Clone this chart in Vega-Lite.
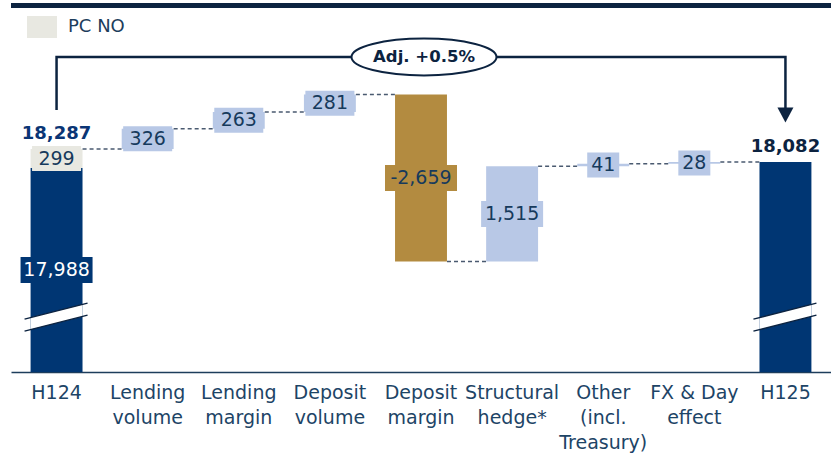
{
  "$schema": "https://vega.github.io/schema/vega-lite/v6.json",
  "width": 820,
  "height": 372,
  "autosize": {"type": "none"},
  "padding": {"left": 11, "top": 0, "right": 0, "bottom": 85},
  "background": "white",
  "config": {"view": {"stroke": null}, "font": "DejaVu Sans"},
  "datasets": {
    "steps": [
      {"cat": "H124", "kind": "Total", "start": 0, "end": 17988, "label": "17,988"},
      {"cat": "H124", "kind": "PC NO", "start": 17988, "end": 18287, "label": "299", "next": "Lending volume"},
      {"cat": "Lending volume", "kind": "Increase", "start": 18287, "end": 18613, "label": "326", "next": "Lending margin"},
      {"cat": "Lending margin", "kind": "Increase", "start": 18613, "end": 18876, "label": "263", "next": "Deposit volume"},
      {"cat": "Deposit volume", "kind": "Increase", "start": 18876, "end": 19157, "label": "281", "next": "Deposit margin"},
      {"cat": "Deposit margin", "kind": "Decrease", "start": 19157, "end": 16498, "label": "-2,659", "next": "Structural hedge*"},
      {"cat": "Structural hedge*", "kind": "Increase", "start": 16498, "end": 18013, "label": "1,515", "next": "Other (incl. Treasury)"},
      {"cat": "Other (incl. Treasury)", "kind": "Increase", "start": 18013, "end": 18054, "label": "41", "next": "FX & Day effect"},
      {"cat": "FX & Day effect", "kind": "Increase", "start": 18054, "end": 18082, "label": "28", "next": "H125"},
      {"cat": "H125", "kind": "Total", "start": 0, "end": 18082}
    ],
    "totals": [
      {"cat": "H124", "value": 18287, "label": "18,287"},
      {"cat": "H125", "value": 18082, "label": "18,082"}
    ],
    "bracket": [
      {"cat": "H124", "y": 18909, "o": 1},
      {"cat": "H124", "y": 19753, "o": 2},
      {"cat": "H125", "y": 19753, "o": 3},
      {"cat": "H125", "y": 18941, "o": 4}
    ],
    "note": [
      {"cat": "Deposit margin", "y": 19753, "label": "Adj. +0.5%"}
    ],
    "arrow": [
      {"cat": "H125", "y": 18830}
    ],
    "topline": [
      {"y": 20572}
    ]
  },
  "layer": [
    {
      "data": {"name": "topline"},
      "mark": {"type": "rule", "color": "#0c2340", "strokeWidth": 5},
      "encoding": {
        "y": {"field": "y", "type": "quantitative", "scale": {"domain": [14740, 20660], "nice": false, "zero": false}, "axis": null}
      }
    },
    {
      "data": {"name": "steps"},
      "mark": {"type": "bar", "clip": true},
      "encoding": {
        "x": {"field": "cat", "type": "nominal", "sort": null,
          "scale": {"domain": ["H124", "Lending volume", "Lending margin", "Deposit volume", "Deposit margin", "Structural hedge*", "Other (incl. Treasury)", "FX & Day effect", "H125"], "paddingInner": 0.43, "paddingOuter": 0.215},
          "axis": {"title": null, "domainColor": "#1d3d5c", "domainWidth": 1.5, "ticks": false, "grid": false, "labelFont": "DejaVu Sans", "labelFontSize": 19, "labelColor": "#1d4466", "labelPadding": 11, "labelLineHeight": 25, "labelAngle": 0, "labelOverlap": false, "labelBaseline": "top",
            "labelExpr": "datum.label == 'Other (incl. Treasury)' ? ['Other', '(incl.', 'Treasury)'] : datum.label == 'FX & Day effect' ? ['FX & Day', 'effect'] : split(datum.label, ' ')"}},
        "y": {"field": "start", "type": "quantitative", "scale": {"domain": [14740, 20660], "nice": false, "zero": false}, "axis": null},
        "y2": {"field": "end"},
        "color": {"field": "kind", "type": "nominal",
          "scale": {"domain": ["Total", "PC NO", "Increase", "Decrease"], "range": ["#003673", "#e8e8e1", "#b8c8e6", "#b38b40"]},
          "legend": {"orient": "none", "legendX": 22, "legendY": 18, "values": ["PC NO"], "title": null, "symbolType": "M-15,-11H15V11H-15Z", "symbolSize": 4, "labelFontSize": 18, "labelFont": "DejaVu Sans", "labelColor": "#1d3d5c", "labelOffset": 17, "symbolStrokeWidth": 0, "padding": 0}}
      }
    },
    {
      "data": {"name": "steps"},
      "transform": [{"filter": "isValid(datum.next)"}],
      "mark": {"type": "rule", "color": "#4a5a70", "strokeWidth": 1.5, "strokeDash": [4, 3], "xOffset": 26, "x2Offset": -26},
      "encoding": {
        "x": {"field": "cat", "type": "nominal"},
        "x2": {"field": "next"},
        "y": {"field": "end", "type": "quantitative", "scale": {"domain": [14740, 20660], "nice": false, "zero": false}, "axis": null}
      }
    },
    {
      "data": {"name": "steps"},
      "transform": [{"filter": "isValid(datum.label)"}, {"calculate": "(max(datum.start, 14740) + datum.end) / 2", "as": "mid"}],
      "mark": {"type": "point", "filled": true, "opacity": 1, "size": 4, "strokeWidth": 0},
      "encoding": {
        "x": {"field": "cat", "type": "nominal"},
        "y": {"field": "mid", "type": "quantitative", "scale": {"domain": [14740, 20660], "nice": false, "zero": false}, "axis": null},
        "color": {"field": "kind", "type": "nominal",
          "scale": {"domain": ["Total", "PC NO", "Increase", "Decrease"], "range": ["#003673", "#e8e8e1", "#b8c8e6", "#b38b40"]},
          "legend": {"orient": "none", "legendX": 22, "legendY": 18, "values": ["PC NO"], "title": null, "symbolType": "M-15,-11H15V11H-15Z", "symbolSize": 4, "labelFontSize": 18, "labelFont": "DejaVu Sans", "labelColor": "#1d3d5c", "labelOffset": 17, "symbolStrokeWidth": 0, "padding": 0}},
        "shape": {"condition": [
          {"test": "length(datum.label) <= 2", "value": "M-16,-12.5H16V12.5H-16Z"},
          {"test": "length(datum.label) == 3", "value": "M-24.5,-12.5H24.5V12.5H-24.5Z"},
          {"test": "length(datum.label) == 5", "value": "M-31,-13H31V13H-31Z"}
        ], "value": "M-36,-13H36V13H-36Z"}
      }
    },
    {
      "data": {"name": "steps"},
      "transform": [{"filter": "isValid(datum.label)"}, {"calculate": "(max(datum.start, 14740) + datum.end) / 2", "as": "mid"}],
      "mark": {"type": "text", "font": "DejaVu Sans", "fontSize": 19, "baseline": "middle", "align": "center"},
      "encoding": {
        "x": {"field": "cat", "type": "nominal"},
        "y": {"field": "mid", "type": "quantitative", "scale": {"domain": [14740, 20660], "nice": false, "zero": false}, "axis": null},
        "text": {"field": "label"},
        "color": {"condition": {"test": "datum.kind == 'Total'", "value": "#ffffff"}, "value": "#163a5c"}
      }
    },
    {
      "data": {"name": "totals"},
      "mark": {"type": "point", "filled": true, "opacity": 1, "size": 4, "strokeWidth": 0, "color": "#ffffff", "shape": "M-26,0.6L26,-12.6L26,-0.6L-26,12.6Z"},
      "encoding": {
        "x": {"field": "cat", "type": "nominal"},
        "y": {"datum": 15615, "type": "quantitative", "scale": {"domain": [14740, 20660], "nice": false, "zero": false}, "axis": null}
      }
    },
    {
      "data": {"name": "totals"},
      "mark": {"type": "point", "filled": false, "opacity": 1, "size": 4, "strokeWidth": 1.5, "color": "#0c2340", "shape": "M-32,2.1L31,-13.9M-32,14.1L31,-1.9"},
      "encoding": {
        "x": {"field": "cat", "type": "nominal"},
        "y": {"datum": 15615, "type": "quantitative", "scale": {"domain": [14740, 20660], "nice": false, "zero": false}, "axis": null}
      }
    },
    {
      "data": {"name": "totals"},
      "mark": {"type": "text", "font": "DejaVu Sans", "fontSize": 18, "fontWeight": "bold", "baseline": "alphabetic", "align": "center", "dy": -10},
      "encoding": {
        "x": {"field": "cat", "type": "nominal"},
        "y": {"field": "value", "type": "quantitative", "scale": {"domain": [14740, 20660], "nice": false, "zero": false}, "axis": null},
        "text": {"field": "label"},
        "color": {"condition": {"test": "datum.cat == 'H124'", "value": "#0a3575"}, "value": "#0c2340"}
      }
    },
    {
      "data": {"name": "bracket"},
      "mark": {"type": "line", "color": "#0c2340", "strokeWidth": 2.5, "strokeJoin": "miter"},
      "encoding": {
        "x": {"field": "cat", "type": "nominal"},
        "y": {"field": "y", "type": "quantitative", "scale": {"domain": [14740, 20660], "nice": false, "zero": false}, "axis": null},
        "order": {"field": "o"}
      }
    },
    {
      "data": {"name": "arrow"},
      "mark": {"type": "point", "filled": true, "opacity": 1, "size": 4, "strokeWidth": 0, "color": "#0c2340", "shape": "M-8,-7.5H8L0,7.5Z"},
      "encoding": {
        "x": {"field": "cat", "type": "nominal"},
        "y": {"field": "y", "type": "quantitative", "scale": {"domain": [14740, 20660], "nice": false, "zero": false}, "axis": null}
      }
    },
    {
      "data": {"name": "note"},
      "mark": {"type": "point", "filled": true, "opacity": 1, "size": 4, "fill": "#ffffff", "stroke": "#0c2340", "strokeWidth": 2, "xOffset": 3, "shape": "M-72.5,0A72.5,18.5 0 1,0 72.5,0A72.5,18.5 0 1,0 -72.5,0Z"},
      "encoding": {
        "x": {"field": "cat", "type": "nominal"},
        "y": {"field": "y", "type": "quantitative", "scale": {"domain": [14740, 20660], "nice": false, "zero": false}, "axis": null}
      }
    },
    {
      "data": {"name": "note"},
      "mark": {"type": "text", "font": "DejaVu Sans", "fontSize": 16.5, "fontWeight": "bold", "baseline": "middle", "align": "center", "xOffset": 3, "color": "#0c2340"},
      "encoding": {
        "x": {"field": "cat", "type": "nominal"},
        "y": {"field": "y", "type": "quantitative", "scale": {"domain": [14740, 20660], "nice": false, "zero": false}, "axis": null},
        "text": {"field": "label"}
      }
    }
  ]
}
